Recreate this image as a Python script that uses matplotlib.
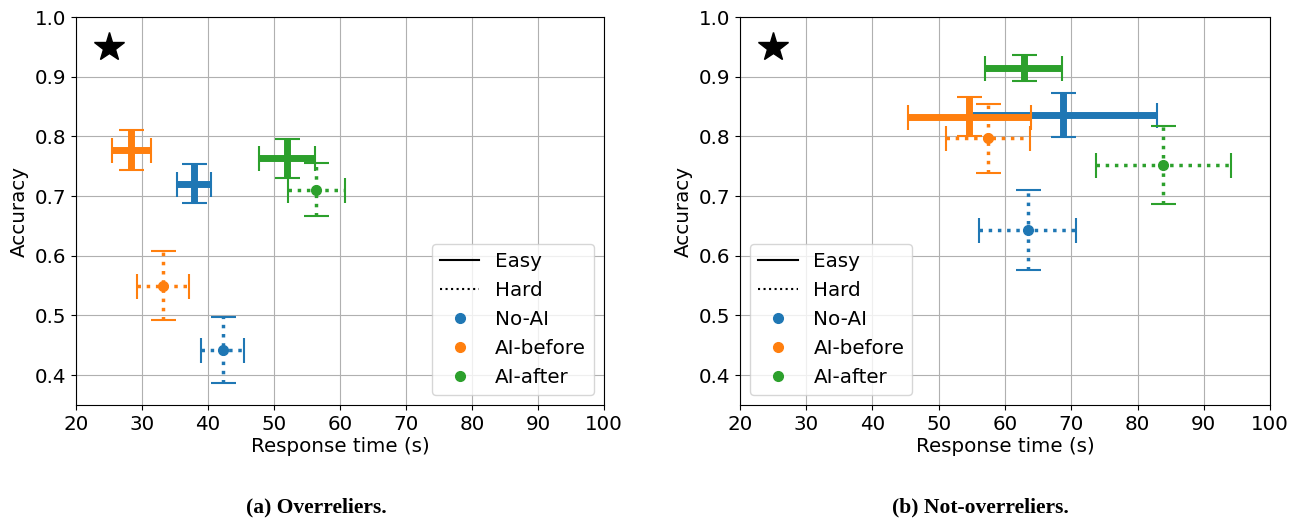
import numpy as np
import matplotlib.pyplot as plt
from matplotlib.lines import Line2D

conditions = ['No-AI', 'AI-before', 'AI-after']
colors = ['#1f77b4', '#ff7f0e', '#2ca02c']

# Overreliers (a)
over_easy_t = [37.9, 28.4, 52.0]
over_easy_t_err = [2.6, 2.9, 4.2]
over_easy_acc = [0.721, 0.777, 0.763]
over_easy_acc_err = [0.033, 0.034, 0.033]
over_hard_t = [42.2, 33.2, 56.4]
over_hard_t_err = [3.3, 3.9, 4.35]
over_hard_acc = [0.442, 0.550, 0.711]
over_hard_acc_err = [0.055, 0.058, 0.045]

# Not-overreliers (b)
not_easy_t = [68.8, 54.6, 62.8]
not_easy_t_err = [14.2, 9.3, 5.8]
not_easy_acc = [0.836, 0.833, 0.915]
not_easy_acc_err = [0.037, 0.033, 0.022]
not_hard_t = [63.4, 57.4, 83.9]
not_hard_t_err = [7.35, 6.35, 10.2]
not_hard_acc = [0.644, 0.797, 0.752]
not_hard_acc_err = [0.067, 0.058, 0.065]

star = (25, 0.95)

fig = plt.figure(figsize=(12.97, 5.22), dpi=100)
ax1 = fig.add_axes([0.0586, 0.2241, 0.4071, 0.7433])
ax2 = fig.add_axes([0.5705, 0.2241, 0.4087, 0.7433])

FS = 14.3


def draw(ax, et, ete, ea, eae, ht, hte, ha, hae, legend_loc):
    for i, c in enumerate(colors):
        ax.errorbar(et[i], ea[i], xerr=ete[i], yerr=eae[i], color=c,
                    elinewidth=5, capsize=9, capthick=1.5, fmt='none')
        eb = ax.errorbar(ht[i], ha[i], xerr=hte[i], yerr=hae[i], color=c,
                         fmt='o', ms=7, elinewidth=2.5, capsize=9, capthick=1.5)
        eb[2][0].set_linestyle(':')
        eb[2][1].set_linestyle(':')
    ax.plot(*star, marker='*', color='black', ms=22)
    ax.set_xlim(20, 100)
    ax.set_ylim(0.35, 1.0)
    ax.set_xticks(range(20, 101, 10))
    ax.set_yticks(np.arange(0.4, 1.01, 0.1))
    ax.grid(True, color='#b0b0b0')
    ax.set_axisbelow(True)
    ax.set_xlabel('Response time (s)', fontsize=FS, labelpad=2)
    ax.set_ylabel('Accuracy', fontsize=FS, labelpad=4)
    ax.tick_params(labelsize=FS)
    handles = [Line2D([], [], color='black', lw=1.5, ls='-'),
               Line2D([], [], color='black', lw=1.5, ls=':')]
    handles += [Line2D([], [], color=c, marker='o', ls='none', ms=7) for c in colors]
    ax.legend(handles, ['Easy', 'Hard'] + conditions, loc=legend_loc, fontsize=FS)


draw(ax1, over_easy_t, over_easy_t_err, over_easy_acc, over_easy_acc_err,
     over_hard_t, over_hard_t_err, over_hard_acc, over_hard_acc_err, 'lower right')
draw(ax2, not_easy_t, not_easy_t_err, not_easy_acc, not_easy_acc_err,
     not_hard_t, not_hard_t_err, not_hard_acc, not_hard_acc_err, 'lower left')

fig.text(0.2436, 0.027, '(a) Overreliers.', ha='center', va='center',
         family='Liberation Serif', weight='bold', fontsize=15.5)
fig.text(0.756, 0.027, '(b) Not-overreliers.', ha='center', va='center',
         family='Liberation Serif', weight='bold', fontsize=15.5)

fig.savefig('out.png', dpi=100)
